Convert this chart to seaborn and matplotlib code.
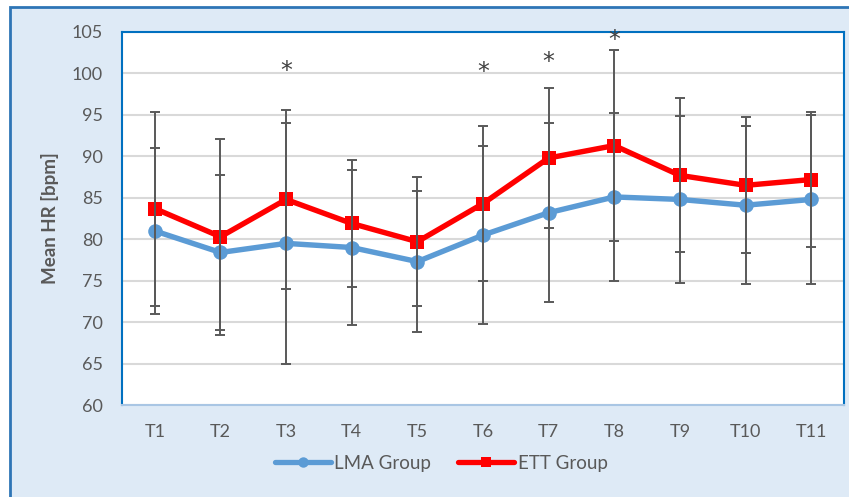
import matplotlib
matplotlib.use("Agg")
import matplotlib.pyplot as plt
from matplotlib.patches import Rectangle
from matplotlib.lines import Line2D
import seaborn as sns
import pandas as pd

# Time points
times = ["T1", "T2", "T3", "T4", "T5", "T6", "T7", "T8", "T9", "T10", "T11"]

# Mean heart rate (bpm) and standard deviation per group
lma_mean = [81.0, 78.4, 79.5, 79.0, 77.3, 80.5, 83.2, 85.1, 84.8, 84.1, 84.8]
lma_sd = [10.0, 9.3, 14.5, 9.4, 8.5, 10.7, 10.8, 10.1, 10.1, 9.5, 10.2]
ett_mean = [83.7, 80.3, 84.8, 81.9, 79.7, 84.3, 89.8, 91.3, 87.7, 86.5, 87.2]
ett_sd = [11.7, 11.8, 10.8, 7.7, 7.8, 9.3, 8.5, 11.5, 9.3, 8.2, 8.1]

# Significant differences marked with an asterisk (label height in bpm)
sig_times = ["T3", "T6", "T7", "T8"]
sig_heights = [101.0, 100.9, 102.1, 104.7]

groups = ["LMA Group", "ETT Group"]
colors = {"LMA Group": "#5B9BD5", "ETT Group": "#FF0000"}
markers = {"LMA Group": "o", "ETT Group": "s"}

df = pd.DataFrame({
    "Time": times * 2,
    "HR": lma_mean + ett_mean,
    "Group": ["LMA Group"] * len(times) + ["ETT Group"] * len(times),
})

sns.set_theme(style="white")
plt.rcParams["font.family"] = ["Lato", "DejaVu Sans"]

W, H = 849, 497
fig = plt.figure(figsize=(W / 100, H / 100), dpi=100, facecolor="white")

# chart area background with border
fig.patches.append(Rectangle((10 / W, -20 / H), 900 / W, (497 - 7 + 20) / H,
                             transform=fig.transFigure, facecolor="#DEEAF6",
                             edgecolor="#2E75B6", linewidth=2.0, zorder=-5))

ax = fig.add_axes([122 / W, (H - 405) / H, (844 - 122) / W, (405 - 32) / H])
ax.set_facecolor("white")

sns.lineplot(data=df, x="Time", y="HR", hue="Group", style="Group",
             palette=colors, markers=markers, dashes=False, linewidth=3.9,
             markersize=10.5, markeredgewidth=0, legend=False, ax=ax,
             zorder=3, sort=False)

xpos = list(range(len(times)))
ax.errorbar(xpos, lma_mean, yerr=lma_sd, fmt="none", ecolor="#595959",
            elinewidth=1.4, capsize=3.8, capthick=1.4, zorder=5)
ax.errorbar(xpos, ett_mean, yerr=ett_sd, fmt="none", ecolor="#595959",
            elinewidth=1.4, capsize=3.8, capthick=1.4, zorder=5)

for t, h in zip(sig_times, sig_heights):
    ax.annotate("*", xy=(times.index(t), h), xytext=(0, -4),
                textcoords="offset points", ha="center", va="center",
                fontsize=17, color="#404040", family="DejaVu Sans",
                zorder=6, annotation_clip=False)

ax.set_xlim(-0.5, len(times) - 0.5)
ax.set_ylim(60, 105)
ax.set_yticks(range(60, 106, 5))
ax.set_xticks(xpos)
ax.set_xticklabels(times)
ax.yaxis.grid(True, color="#D9D9D9", linewidth=1.5)
ax.xaxis.grid(False)
ax.set_axisbelow(True)
ax.tick_params(axis="both", length=0, labelsize=13, labelcolor="#595959")
ax.tick_params(axis="y", pad=14)
ax.tick_params(axis="x", pad=14)
ax.set_xlabel("")
ax.set_ylabel("Mean HR [bpm]", fontsize=13.5, fontweight="bold", color="#595959",
              labelpad=9)

for side in ["left", "top", "right"]:
    ax.spines[side].set_color("#0070C0")
    ax.spines[side].set_linewidth(1.5)
ax.spines["bottom"].set_color("#A9C6E4")
ax.spines["bottom"].set_linewidth(1.5)

handles = [Line2D([], [], color=colors[g], marker=markers[g], linewidth=3.8,
                  markersize=7.5, markeredgewidth=0) for g in groups]
fig.legend(handles, groups, loc="center", bbox_to_anchor=(441 / W, 1 - 463 / H),
           ncol=2, frameon=False, fontsize=13.5, labelcolor="#595959",
           handlelength=3.0, handletextpad=0.2, columnspacing=1.4)

fig.savefig("out.png", dpi=100, facecolor="white")
